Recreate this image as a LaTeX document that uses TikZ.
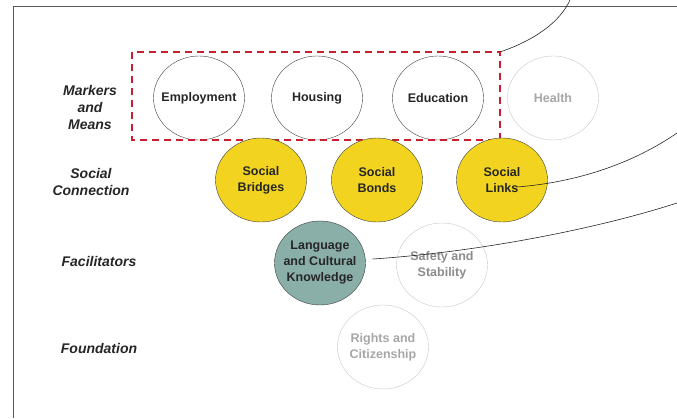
\documentclass[tikz,border=0pt]{standalone}
\usepackage{fontspec}
\setmainfont{Liberation Sans}
\usetikzlibrary{shapes.geometric, positioning, calc}

\definecolor{markred}{HTML}{C8202F}
\definecolor{bondyellow}{HTML}{F2D420}
\definecolor{facteal}{HTML}{8AAFA8}
\definecolor{fadeline}{HTML}{C8C8C8}
\definecolor{fadetext}{HTML}{A6A6A6}

\begin{document}
\begin{tikzpicture}[x=1pt, y=-1pt,
    factor/.style={ellipse, draw=black!75, minimum width=91pt, minimum height=84pt,
      inner xsep=-9pt, inner ysep=0pt, align=center, text=black!85,
      font=\fontsize{12.5}{16}\selectfont\bfseries},
    faded/.style={factor, draw=fadeline, text=fadetext},
    rowlabel/.style={align=center, text=black!85,
      font=\fontsize{14}{17}\selectfont\bfseries\itshape}]

    \useasboundingbox (0,0) rectangle (677,418);

    % ---------- Frame ----------
    \draw[black!65, line width=1pt] (677,6.5) -- (13,6.5) -- (13,418);

    % ---------- Row labels ----------
    \node[rowlabel] (lmarkers) at (90,107) {Markers\\and\\Means};
    \node[rowlabel] (lsocial) at (91,182) {Social\\Connection};
    \node[rowlabel] (lfacil) at (99,261) {Facilitators};
    \node[rowlabel] (lfound) at (99,348) {Foundation};

    % ---------- Markers and Means ----------
    \node[factor] (employ) at (199,98) {Employment};
    \node[factor] (housing) at (317,98) {Housing};
    \node[factor] (educ) at (438,98) {Education};
    \node[faded] (health) at (553,98) {Health};
    \draw[markred, line width=2.2pt, dash pattern=on 7pt off 5pt]
      (132,52) rectangle (500,140);
    \coordinate (boxcorner) at (500,52);

    % ---------- Social Connection ----------
    \node[factor, fill=bondyellow] (bridges) at (261,180) {Social\\Bridges};
    \node[factor, fill=bondyellow] (bonds) at (377,180) {Social\\Bonds};
    \node[factor, fill=bondyellow] (links) at (502,180) {Social\\Links};

    % ---------- Facilitators ----------
    \node[factor, fill=facteal] (lang) at (320,263) {Language\\and Cultural\\Knowledge};
    \node[faded, text=black!45] (safety) at (442,265) {Safety and\\Stability};

    % ---------- Foundation ----------
    \node[faded] (rights) at (383,347) {Rights and\\Citizenship};

    % ---------- Callout lines ----------
    \coordinate (topend) at (570,0);
    \coordinate (linksend) at (677,133);
    \coordinate (langend) at (677,203);
    \draw[black!85, line width=.6pt] (boxcorner) .. controls (535,40) and (560,22) .. (topend);
    \draw[black!85, line width=.6pt] ([xshift=15pt, yshift=-7pt]links.center)
      .. controls (580,182) and (635,162) .. (linksend);
    \draw[black!85, line width=.6pt] ([xshift=7pt, yshift=4pt]lang.east)
      .. controls (480,252) and (600,228) .. (langend);

\end{tikzpicture}
\end{document}
